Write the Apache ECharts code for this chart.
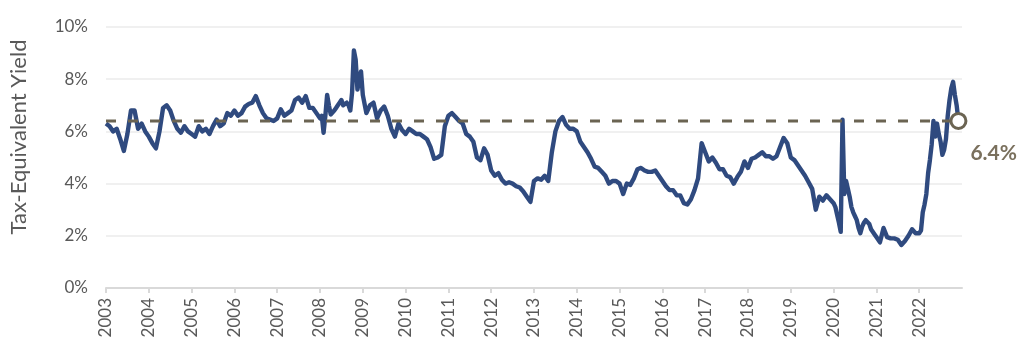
<!DOCTYPE html>
<html>
<head>
<meta charset="utf-8">
<script src="https://cdn.jsdelivr.net/npm/echarts@6/dist/echarts.min.js"></script>
<style>
html,body{margin:0;padding:0;background:#fff;}
#chart{width:1024px;height:362px;}
</style>
</head>
<body>
<div id="chart"></div>
<script>
// Year tick labels
const yearTicks = [2003,2004,2005,2006,2007,2008,2009,2010,2011,2012,2013,2014,2015,2016,2017,2018,2019,2020,2021,2022];
const yTicks = [0,2,4,6,8,10];
const currentYield = 6.4;
const yAxisTitle = 'Tax-Equivalent Yield';

// Yields (%) by year: 12 values = monthly, 23/24 values = semi-monthly
const y2003 = [6.3, 6.2, 6.0, 6.1, 5.7, 5.25, 5.9, 6.8, 6.8, 6.1, 6.3, 6.0];
const y2004 = [5.8, 5.55, 5.35, 6.0, 6.9, 7.0, 6.8, 6.4, 6.1, 5.95, 6.2, 6.0];
const y2005 = [5.9, 5.8, 6.2, 6.0, 6.1, 5.9, 6.2, 6.45, 6.2, 6.3, 6.7, 6.6];
const y2006 = [6.8, 6.6, 6.7, 6.95, 7.05, 7.1, 7.35, 7.0, 6.7, 6.5, 6.45, 6.4];
const y2007 = [6.5, 6.85, 6.6, 6.7, 6.8, 7.2, 7.3, 7.1, 7.35, 6.9, 6.9, 6.7];
const y2008 = [6.5, 6.6, 5.95, 6.6, 7.4, 7.0, 6.65, 6.7, 6.8, 6.9, 7.0, 7.1, 7.2, 7.0, 7.0, 7.1, 7.0, 6.8, 7.5, 9.1, 8.75, 7.6, 8.0, 8.3];
const y2009 = [7.4, 6.7, 7.0, 7.1, 6.5, 6.8, 6.95, 6.6, 6.1, 5.8, 6.3, 6.05];
const y2010 = [5.9, 6.1, 6.0, 5.9, 5.9, 5.8, 5.7, 5.4, 4.95, 5.0, 5.1, 6.2];
const y2011 = [6.6, 6.7, 6.55, 6.4, 6.3, 5.9, 5.8, 5.6, 5.0, 4.9, 5.35, 5.1];
const y2012 = [4.5, 4.3, 4.4, 4.15, 4.0, 4.05, 4.0, 3.9, 3.85, 3.7, 3.5, 3.3];
const y2013 = [4.1, 4.2, 4.15, 4.3, 4.1, 5.2, 6.0, 6.4, 6.55, 6.25, 6.1, 6.1];
const y2014 = [6.0, 5.6, 5.4, 5.2, 4.95, 4.65, 4.6, 4.45, 4.3, 4.0, 4.1, 4.1];
const y2015 = [4.0, 3.6, 4.0, 3.95, 4.2, 4.55, 4.6, 4.5, 4.45, 4.45, 4.5, 4.3];
const y2016 = [4.1, 3.9, 3.75, 3.75, 3.55, 3.55, 3.25, 3.2, 3.4, 3.75, 4.2, 5.55];
const y2017 = [5.2, 4.85, 5.0, 4.8, 4.55, 4.55, 4.3, 4.25, 4.0, 4.25, 4.45, 4.85];
const y2018 = [4.6, 4.95, 5.0, 5.1, 5.2, 5.05, 5.05, 4.95, 5.05, 5.4, 5.75, 5.55];
const y2019 = [5.0, 4.9, 4.7, 4.5, 4.3, 4.05, 3.8, 3.0, 3.5, 3.35, 3.55, 3.4];
const y2020 = [3.25, 3.1, 2.8, 2.5, 2.15, 6.45, 3.6, 4.1, 3.8, 3.5, 3.1, 2.9, 2.75, 2.6, 2.3, 2.1, 2.35, 2.5, 2.6, 2.55, 2.45, 2.25, 2.2, 2.05];
const y2021 = [1.95, 1.75, 2.3, 1.95, 1.9, 1.9, 1.85, 1.65, 1.8, 2.0, 2.25, 2.1];
const y2022 = [2.1, 2.2, 2.9, 3.2, 3.6, 4.4, 4.9, 5.5, 6.4, 5.8, 6.3, 5.9, 5.6, 5.1, 5.3, 5.7, 6.6, 7.2, 7.65, 7.9, 7.4, 7.0, 6.4];

const yearly = [y2003,y2004,y2005,y2006,y2007,y2008,y2009,y2010,y2011,y2012,y2013,y2014,y2015,y2016,y2017,y2018,y2019,y2020,y2021,y2022];

const seriesData = [];
yearly.forEach((arr, k) => {
  const n = arr.length > 12 ? 24 : 12;
  arr.forEach((v, i) => seriesData.push([yearTicks[k] + i / n, v]));
});
const last = seriesData[seriesData.length - 1];

const FONT = 'Lato, "Open Sans", sans-serif';
const chart = echarts.init(document.getElementById('chart'), null, {renderer: 'canvas'});
chart.setOption({
  animation: false,
  grid: {left: 106, right: 62, top: 27, bottom: 74},
  xAxis: {
    type: 'value',
    min: yearTicks[0],
    max: yearTicks[yearTicks.length - 1] + 1,
    interval: 1,
    axisLine: {show: true, lineStyle: {color: '#d9d9d9', width: 2}},
    axisTick: {show: true, customValues: yearTicks, length: 5, lineStyle: {color: '#d9d9d9', width: 2}},
    axisLabel: {
      customValues: yearTicks,
      rotate: 90,
      margin: 10,
      color: '#595959',
      fontSize: 17,
      fontFamily: FONT,
      formatter: v => String(Math.round(v))
    },
    splitLine: {show: false}
  },
  yAxis: {
    type: 'value',
    min: yTicks[0],
    max: yTicks[yTicks.length - 1],
    interval: 2,
    axisLine: {show: false},
    axisTick: {show: false},
    axisLabel: {color: '#595959', fontSize: 17, fontFamily: FONT, margin: 18, formatter: '{value}%'},
    splitLine: {lineStyle: {color: '#ebebeb', width: 1.5}}
  },
  graphic: [{
    type: 'text',
    x: 19,
    y: 137,
    rotation: Math.PI / 2,
    style: {
      text: yAxisTitle,
      fill: '#595959',
      font: '22px ' + FONT,
      align: 'center',
      verticalAlign: 'middle'
    }
  }],
  series: [{
    type: 'line',
    data: seriesData,
    showSymbol: false,
    symbol: 'none',
    lineStyle: {color: '#2f4a7f', width: 4.4, join: 'round'},
    z: 2
  }, {
    type: 'line',
    data: [[yearTicks[0], currentYield], [last[0], currentYield]],
    symbol: 'none',
    lineStyle: {color: '#6b6452', width: 3, type: [10, 12]},
    z: 3
  }, {
    type: 'scatter',
    data: [[last[0], currentYield]],
    symbol: 'circle',
    symbolSize: 15,
    itemStyle: {color: '#ffffff', borderColor: '#6b6452', borderWidth: 3, opacity: 1},
    label: {
      show: true,
      position: 'right',
      distance: 3,
      offset: [0, 32],
      formatter: currentYield.toFixed(1) + '%',
      color: '#7a705d',
      fontSize: 21,
      fontWeight: 'bold',
      fontFamily: FONT
    },
    z: 4
  }]
});
</script>
</body>
</html>
